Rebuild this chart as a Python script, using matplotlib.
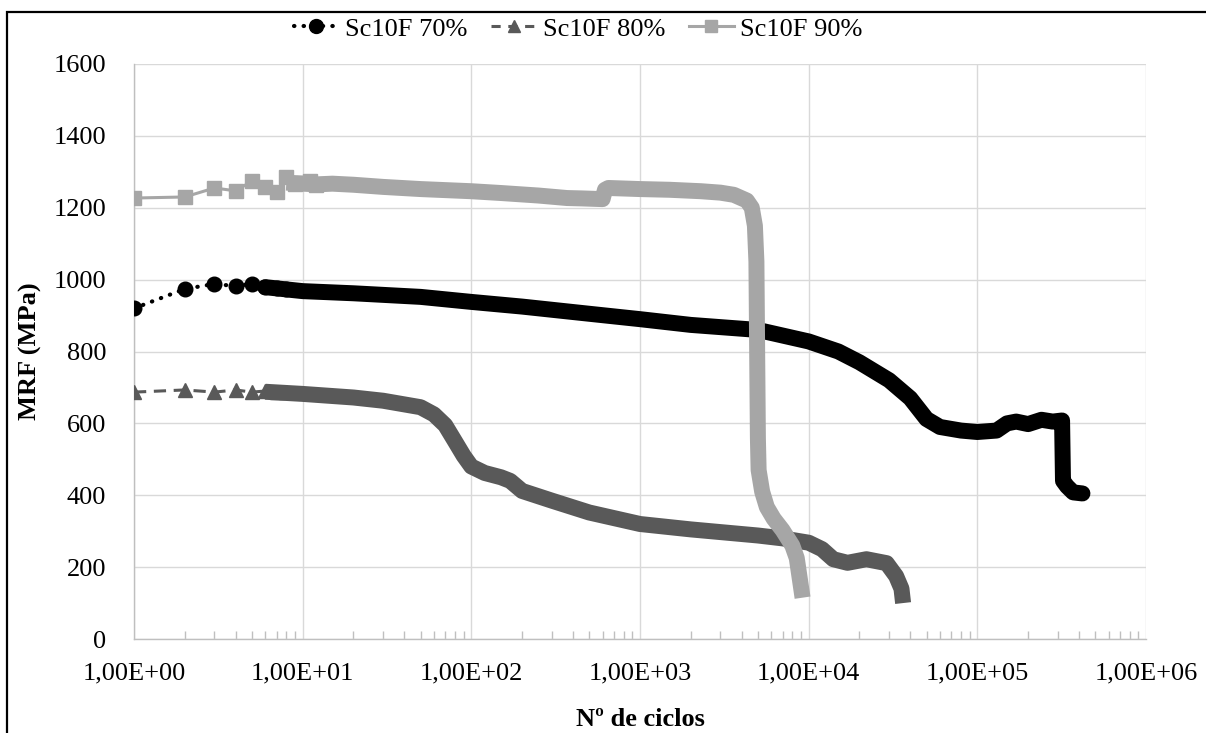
import matplotlib
matplotlib.use("Agg")
import matplotlib.pyplot as plt
from matplotlib.lines import Line2D
from matplotlib.patches import Rectangle
from matplotlib.ticker import LogLocator, FuncFormatter, NullFormatter

# ---- data -------------------------------------------------------------
series_names = ["Sc10F 70%", "Sc10F 80%", "Sc10F 90%"]

# first cycles (individual markers)
cyc70_early = [1, 2, 3, 4, 5, 6, 7, 8]
mrf70_early = [920, 974, 988, 982, 988, 979, 977, 975]
# remaining cycles (markers merge into a continuous band)
cyc70_band = [6, 10, 20, 50, 100, 200, 500, 1000, 2000, 5000, 10000, 15000,
              20000, 30000, 40000, 50000, 60000, 80000, 100000, 130000,
              150000, 170000, 200000, 240000, 280000, 318000, 322000,
              340000, 370000, 420000]
mrf70_band = [979, 968, 962, 952, 938, 925, 905, 890, 874, 860, 828, 800,
              770, 720, 670, 612, 590, 580, 576, 580, 600, 605, 598, 610,
              605, 608, 440, 425, 408, 405]

cyc80_early = [1, 2, 3, 4, 5, 6, 7, 8]
mrf80_early = [687, 693, 687, 693, 687, 690, 687, 688]
cyc80_band = [6, 10, 20, 30, 50, 60, 70, 80, 90, 100, 120, 150, 170, 200,
              300, 500, 1000, 2000, 5000, 7000, 10000, 12000, 14000, 17000,
              22000, 29000, 33000, 35500, 36300]
mrf80_band = [688, 682, 672, 663, 645, 625, 595, 550, 510, 480, 462, 450,
              440, 412, 385, 352, 320, 305, 288, 280, 268, 250, 222, 212,
              222, 211, 175, 140, 100]

cyc90_early = [1, 2, 3, 4, 5, 6, 7, 8, 9, 10, 11, 12]
mrf90_early = [1227, 1230, 1255, 1247, 1274, 1258, 1244, 1285, 1265, 1268,
               1275, 1262]
cyc90_band = [8, 12, 15, 20, 30, 50, 100, 150, 250, 370, 450, 600, 620, 650,
              1000, 1500, 2300, 3000, 3600, 4300, 4600, 4800, 4900, 4950,
              5000, 5050, 5300, 5650, 6200, 7000, 8000, 8500, 9200]
mrf90_band = [1270, 1265, 1267, 1264, 1258, 1252, 1246, 1241, 1234, 1227,
              1226, 1224, 1250, 1255, 1252, 1250, 1246, 1242, 1236, 1220,
              1200, 1150, 1050, 800, 560, 470, 410, 367, 335, 303, 260, 225,
              115]

yticks = [0, 200, 400, 600, 800, 1000, 1200, 1400, 1600]
xdecades = [1e0, 1e1, 1e2, 1e3, 1e4, 1e5, 1e6]

# ---- style ------------------------------------------------------------
plt.rcParams["font.family"] = ["Liberation Serif", "DejaVu Serif"]
FS = 19
C70, C80, C90 = "#000000", "#595959", "#A6A6A6"
BAND = 11.5
MS = 10.5

W, H = 1206, 733
fig = plt.figure(figsize=(W / 100, H / 100), dpi=100)
ax = fig.add_axes([134 / W, 1 - 639 / H, (1146 - 134) / W, (639 - 64) / H])
ax.set_xscale("log")

# 70 %
ax.plot(cyc70_early, mrf70_early, color=C70, linestyle=(0, (0.1, 2.2)),
        lw=3, dash_capstyle="round", marker="o", ms=MS, zorder=3)
ax.plot(cyc70_band, mrf70_band, color=C70, lw=BAND, solid_capstyle="round",
        solid_joinstyle="round", zorder=3)
# 80 %
ax.plot(cyc80_early, mrf80_early, color=C80, linestyle=(0, (4, 2.5)),
        lw=2.2, marker="^", ms=MS, zorder=4)
ax.plot(cyc80_band, mrf80_band, color=C80, lw=BAND, solid_capstyle="butt",
        solid_joinstyle="round", zorder=4)
# 90 %
ax.plot(cyc90_early, mrf90_early, color=C90, linestyle="-", lw=2.2,
        marker="s", ms=MS, zorder=5)
ax.plot(cyc90_band, mrf90_band, color=C90, lw=BAND, solid_capstyle="butt",
        solid_joinstyle="round", zorder=5)

# ---- axes -------------------------------------------------------------
ax.set_xlim(1, 1e6)
ax.set_ylim(0, 1600)
ax.set_xticks(xdecades)
ax.xaxis.set_major_formatter(
    FuncFormatter(lambda v, p: f"{v:.2E}".replace(".", ",")))
ax.xaxis.set_minor_locator(LogLocator(base=10, subs=range(2, 10), numticks=100))
ax.xaxis.set_minor_formatter(NullFormatter())
ax.set_yticks(yticks)

ax.tick_params(axis="x", which="major", length=0, pad=17, labelsize=FS)
ax.tick_params(axis="x", which="minor", direction="in", length=6, width=1,
               color="#BFBFBF")
ax.tick_params(axis="y", which="major", length=0, pad=20, labelsize=FS)

ax.grid(True, which="major", color="#D9D9D9", lw=1)
ax.set_axisbelow(True)
for s in ("top", "right"):
    ax.spines[s].set_visible(False)
for s in ("left", "bottom"):
    ax.spines[s].set_color("#BFBFBF")
    ax.spines[s].set_linewidth(1)

fig.text(30 / W, 1 - 351 / H, "MRF (MPa)", rotation=90, ha="center",
         va="center", fontsize=FS, fontweight="bold")
fig.text(640 / W, 1 - 719 / H, "Nº de ciclos", ha="center", va="center",
         fontsize=FS, fontweight="bold")

handles = [
    Line2D([], [], color=C70, linestyle=(0, (0.1, 2.2)), lw=3,
           dash_capstyle="round", marker="o", ms=10),
    Line2D([], [], color=C80, linestyle=(0, (3, 2.5)), lw=2.2, marker="^",
           ms=9),
    Line2D([], [], color=C90, linestyle="-", lw=2.2, marker="s", ms=9),
]
fig.legend(handles, series_names, loc="center", ncol=3,
           bbox_to_anchor=(578 / W, 1 - 29 / H), frameon=False, fontsize=FS,
           handlelength=1.7, handletextpad=0.25, columnspacing=0.9)

# outer frame
fig.patches.append(Rectangle((7 / W, -0.05), 1.1, (1 - 11.5 / H) + 0.05,
                             fill=False, edgecolor="black", lw=1.6,
                             transform=fig.transFigure, clip_on=False))

fig.savefig("out.png", dpi=100)
